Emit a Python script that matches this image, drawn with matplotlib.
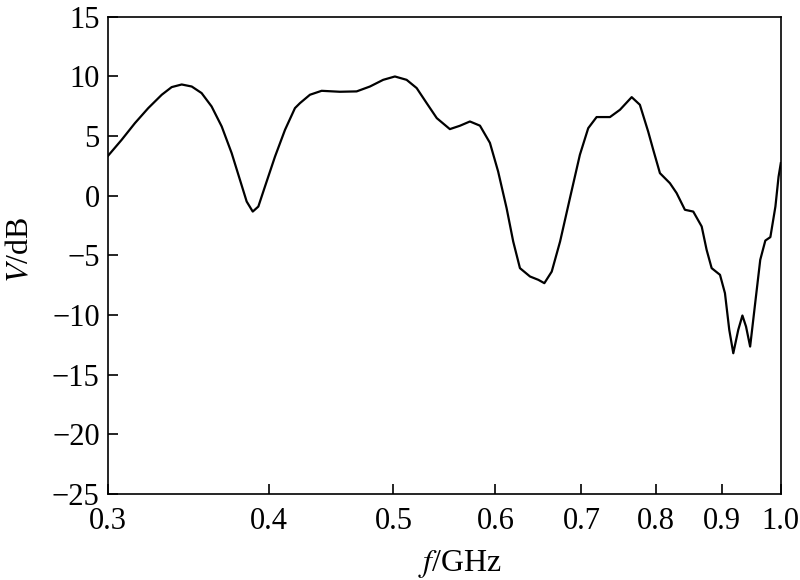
import matplotlib
matplotlib.use("Agg")
import matplotlib.pyplot as plt
from matplotlib.ticker import FixedLocator, FixedFormatter, NullLocator

plt.rcParams['font.family'] = ['Liberation Serif', 'DejaVu Serif']
plt.rcParams['mathtext.fontset'] = 'stix'

# frequency (GHz) and level (dB)
freq = [0.3000, 0.3074, 0.3148, 0.3224, 0.3303, 0.3362, 0.3423, 0.3485, 0.3547,
        0.3611, 0.3677, 0.3743, 0.3799, 0.3845, 0.3887, 0.3926, 0.3973, 0.4045,
        0.4118, 0.4192, 0.4230, 0.4306, 0.4397, 0.4543, 0.4681, 0.4794, 0.4909,
        0.5013, 0.5119, 0.5212, 0.5306, 0.5403, 0.5531, 0.5631, 0.5733, 0.5837,
        0.5942, 0.6030, 0.6122, 0.6195, 0.6270, 0.6384, 0.6480, 0.6550, 0.6637,
        0.6737, 0.6857, 0.6980, 0.7085, 0.7192, 0.7366, 0.7499, 0.7658, 0.7771,
        0.7887, 0.7959, 0.8055, 0.8200, 0.8299, 0.8423, 0.8550, 0.8680, 0.8757,
        0.8836, 0.8969, 0.9049, 0.9119, 0.9185, 0.9267, 0.9336, 0.9397, 0.9466,
        0.9552, 0.9639, 0.9727, 0.9815, 0.9904, 0.9960, 1.0000]
level = [3.35, 4.69, 6.09, 7.35, 8.47, 9.11, 9.33, 9.16, 8.61,
         7.49, 5.81, 3.58, 1.34, -0.48, -1.32, -0.90, 0.78, 3.29,
         5.53, 7.35, 7.77, 8.47, 8.80, 8.72, 8.75, 9.16, 9.72,
         10.0, 9.72, 9.03, 7.77, 6.51, 5.59, 5.87, 6.23, 5.88,
         4.44, 2.04, -1.03, -3.83, -6.06, -6.76, -7.04, -7.32, -6.35,
         -3.83, -0.19, 3.44, 5.67, 6.60, 6.60, 7.21, 8.27, 7.63,
         5.39, 3.86, 1.90, 1.06, 0.23, -1.17, -1.32, -2.57, -4.53,
         -6.06, -6.62, -8.16, -11.23, -13.19, -11.23, -10.03, -10.96, -12.63,
         -8.99, -5.36, -3.75, -3.46, -0.90, 1.60, 2.74]

xticks = [0.3, 0.4, 0.5, 0.6, 0.7, 0.8, 0.9, 1.0]
xticklabels = ['0.3', '0.4', '0.5', '0.6', '0.7', '0.8', '0.9', '1.0']
yticks = [-25, -20, -15, -10, -5, 0, 5, 10, 15]

fig = plt.figure(figsize=(8, 5.8), dpi=100)
ax = fig.add_axes([0.135, 0.148, 0.841, 0.823])

ax.plot(freq, level, color='k', linewidth=1.6)

ax.set_xscale('log')
ax.set_xlim(0.3, 1.0)
ax.set_ylim(-25, 15)
ax.xaxis.set_major_locator(FixedLocator(xticks))
ax.xaxis.set_major_formatter(FixedFormatter(xticklabels))
ax.xaxis.set_minor_locator(NullLocator())
ax.set_yticks(yticks)
ax.set_yticklabels([str(v).replace('-', '\u2212') for v in yticks])

ax.tick_params(direction='in', length=7, width=1.2, labelsize=22,
               top=False, right=False)
ax.tick_params(axis='x', pad=9)
ax.tick_params(axis='y', pad=6)
for s in ax.spines.values():
    s.set_linewidth(1.2)

# axis titles placed in figure coords
fig.text(0.575, 0.016, r'$\mathit{f}$/GHz', fontsize=23, ha='center', va='baseline')
fig.text(0.008, 0.569, r'$\mathit{V}$/dB', fontsize=23, rotation=90,
         ha='left', va='center')

fig.savefig('out.png', dpi=100)
